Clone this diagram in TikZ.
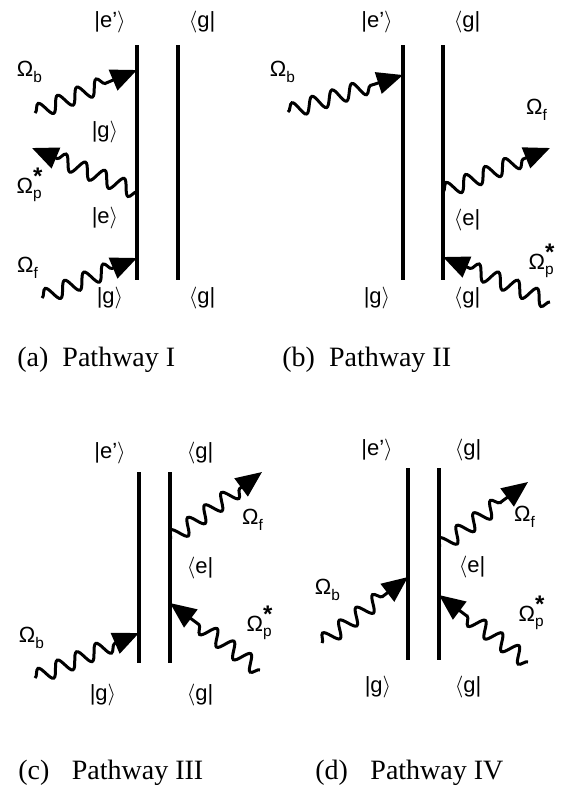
\documentclass[tikz,border=0pt]{standalone}
\usepackage{amsmath}
\usepackage{fontspec}
\setmainfont{Liberation Serif}
\setsansfont{Liberation Sans}
\usetikzlibrary{arrows.meta,decorations.pathmorphing}

\newcommand{\kt}[1]{|#1$\rangle$}
\newcommand{\br}[1]{$\langle$#1|}
\newcommand{\Om}[2]{$\text{Ω}_{\text{#1}}^{\text{\fontsize{12}{12}\selectfont\bfseries #2}}$}

\begin{document}
\begin{tikzpicture}[x=0.5pt, y=-0.5pt,
    rail/.style={line width=2pt},
    field/.style={decorate, decoration={snake, segment length=10.5pt, amplitude=3.8pt, post length=13pt}, line width=1.5pt, -{Triangle[length=13pt, width=11pt]}},
    statelbl/.style={font=\sffamily\fontsize{11}{13}\selectfont, inner sep=1pt},
    fieldlbl/.style={font=\sffamily\fontsize{11}{13}\selectfont, inner sep=0pt},
    caption/.style={font=\fontsize{14}{16}\selectfont, anchor=west, inner sep=0pt}]

    \useasboundingbox (0,0) rectangle (563,789);

    % (a) Pathway I
    \coordinate (aLt) at (137,45);  \coordinate (aLb) at (137,280);
    \coordinate (aRt) at (178,45);  \coordinate (aRb) at (178,280);
    \draw[rail] (aLt) -- (aLb);
    \draw[rail] (aRt) -- (aRb);
    \node[statelbl] (aKt) at (110,22) {\kt{e'}};
    \node[statelbl] (aBt) at (202,22) {\br{g}};
    \node[statelbl] (aKb) at (110,298) {\kt{g}};
    \node[statelbl] (aBb) at (202,298) {\br{g}};
    \node[statelbl] (aKg) at (105,132) {\kt{g}};
    \node[statelbl] (aKe) at (105,218) {\kt{e}};
    \coordinate (aBin) at (35,113);  \coordinate (aBv) at (137,70);
    \coordinate (aPv) at (137,192);  \coordinate (aPout) at (32,148);
    \coordinate (aFin) at (42,298);  \coordinate (aFv) at (137,258);
    \draw[field] (aBin) -- (aBv);
    \draw[field] (aPv) -- (aPout);
    \draw[field] (aFin) -- (aFv);
    \node[fieldlbl] (aOb) at (30,72) {\Om{b}{}};
    \node[fieldlbl] (aOp) at (30,185) {\Om{p}{*}};
    \node[fieldlbl] (aOf) at (28,268) {\Om{f}{}};
    \node[caption] (capa) at (17,360) {(a)\enspace Pathway I};

    % (b) Pathway II
    \coordinate (bLt) at (403,45);  \coordinate (bLb) at (403,280);
    \coordinate (bRt) at (443,45);  \coordinate (bRb) at (443,280);
    \draw[rail] (bLt) -- (bLb);
    \draw[rail] (bRt) -- (bRb);
    \node[statelbl] (bKt) at (377,22) {\kt{e'}};
    \node[statelbl] (bBt) at (467,22) {\br{g}};
    \node[statelbl] (bKb) at (377,298) {\kt{g}};
    \node[statelbl] (bBb) at (467,298) {\br{g}};
    \node[statelbl] (bBe) at (467,220) {\br{e}};
    \coordinate (bBin) at (288,112);  \coordinate (bBv) at (403,75);
    \coordinate (bFv) at (443,192);   \coordinate (bFout) at (550,148);
    \coordinate (bPin) at (550,302);  \coordinate (bPv) at (443,257);
    \draw[field] (bBin) -- (bBv);
    \draw[field] (bFv) -- (bFout);
    \draw[field] (bPin) -- (bPv);
    \node[fieldlbl] (bOb) at (283,72) {\Om{b}{}};
    \node[fieldlbl] (bOf) at (537,110) {\Om{f}{}};
    \node[fieldlbl] (bOp) at (542,261) {\Om{p}{*}};
    \node[caption] (capb) at (282,360) {(b)\enspace Pathway II};

    % (c) Pathway III
    \coordinate (cLt) at (139,472);  \coordinate (cLb) at (139,663);
    \coordinate (cRt) at (170,472);  \coordinate (cRb) at (170,663);
    \draw[rail] (cLt) -- (cLb);
    \draw[rail] (cRt) -- (cRb);
    \node[statelbl] (cKt) at (110,453) {\kt{e'}};
    \node[statelbl] (cBt) at (200,453) {\br{g}};
    \node[statelbl] (cKb) at (103,695) {\kt{g}};
    \node[statelbl] (cBb) at (200,695) {\br{g}};
    \node[statelbl] (cBe) at (200,568) {\br{e}};
    \coordinate (cFv) at (170,540);   \coordinate (cFout) at (262,472);
    \coordinate (cPin) at (260,670);  \coordinate (cPv) at (170,603);
    \coordinate (cBin) at (35,678);   \coordinate (cBv) at (139,633);
    \draw[field] (cFv) -- (cFout);
    \draw[field] (cPin) -- (cPv);
    \draw[field] (cBin) -- (cBv);
    \node[fieldlbl] (cOf) at (253,520) {\Om{f}{}};
    \node[fieldlbl] (cOp) at (260,623) {\Om{p}{*}};
    \node[fieldlbl] (cOb) at (32,638) {\Om{b}{}};
    \node[caption] (capc) at (18,773) {(c)\hspace{0.8em}Pathway III};

    % (d) Pathway IV
    \coordinate (dLt) at (408,468);  \coordinate (dLb) at (408,660);
    \coordinate (dRt) at (439,468);  \coordinate (dRb) at (439,660);
    \draw[rail] (dLt) -- (dLb);
    \draw[rail] (dRt) -- (dRb);
    \node[statelbl] (dKt) at (377,450) {\kt{e'}};
    \node[statelbl] (dBt) at (468,450) {\br{g}};
    \node[statelbl] (dKb) at (378,687) {\kt{g}};
    \node[statelbl] (dBb) at (468,687) {\br{g}};
    \node[statelbl] (dBe) at (472,567) {\br{e}};
    \coordinate (dFv) at (439,548);   \coordinate (dFout) at (528,482);
    \coordinate (dPin) at (528,662);  \coordinate (dPv) at (439,595);
    \coordinate (dBin) at (322,643);  \coordinate (dBv) at (408,577);
    \draw[field] (dFv) -- (dFout);
    \draw[field] (dPin) -- (dPv);
    \draw[field] (dBin) -- (dBv);
    \node[fieldlbl] (dOf) at (525,517) {\Om{f}{}};
    \node[fieldlbl] (dOp) at (532,613) {\Om{p}{*}};
    \node[fieldlbl] (dOb) at (328,590) {\Om{b}{}};
    \node[caption] (capd) at (315,773) {(d)\hspace{0.8em}Pathway IV};

\end{tikzpicture}
\end{document}
